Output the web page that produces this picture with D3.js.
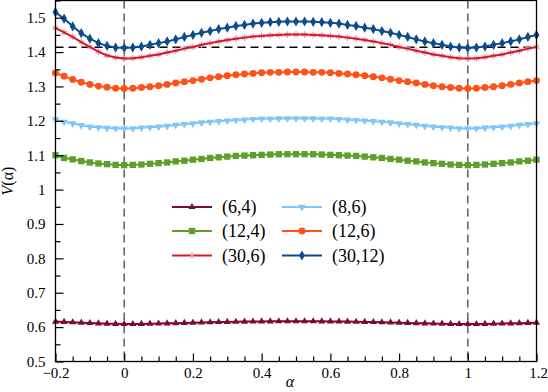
<!DOCTYPE html>
<html>
<head>
<meta charset="utf-8">
<script src="https://cdn.jsdelivr.net/npm/d3@7"></script>
<style>
  body { margin: 0; background: #fff; overflow: hidden; }
  svg { display: block; }
  svg text { font-family: "Liberation Serif", "DejaVu Serif", "Times New Roman", serif; }
</style>
</head>
<body>
<svg id="chart"></svg>
<script>
/* data: V(alpha) for six (n,m) pairs */
var alpha = [-0.2, -0.175, -0.15, -0.125, -0.1, -0.075, -0.05, -0.025, 0,
  0.025, 0.05, 0.075, 0.1, 0.125, 0.15, 0.175, 0.2, 0.225, 0.25,
  0.275, 0.3, 0.325, 0.35, 0.375, 0.4, 0.425, 0.45, 0.475, 0.5,
  0.525, 0.55, 0.575, 0.6, 0.625, 0.65, 0.675, 0.7, 0.725, 0.75,
  0.775, 0.8, 0.825, 0.85, 0.875, 0.9, 0.925, 0.95, 0.975, 1,
  1.025, 1.05, 1.075, 1.1, 1.125, 1.15, 1.175, 1.2];

var v6_4 = [0.616, 0.615, 0.614, 0.613, 0.612, 0.611, 0.610, 0.6095, 0.609,
  0.6091, 0.6094, 0.6099, 0.6104, 0.611, 0.6116, 0.6123, 0.6129, 0.6136, 0.6141,
  0.6147, 0.6152, 0.6156, 0.616, 0.6163, 0.6166, 0.6168, 0.6169, 0.617, 0.617,
  0.617, 0.6169, 0.6168, 0.6166, 0.6163, 0.616, 0.6156, 0.6152, 0.6147, 0.6141,
  0.6136, 0.6129, 0.6123, 0.6116, 0.611, 0.6104, 0.6099, 0.6094, 0.6091, 0.609,
  0.6091, 0.6094, 0.6099, 0.6104, 0.611, 0.6116, 0.6123, 0.6129];

var v8_6 = [1.204, 1.197, 1.192, 1.187, 1.183, 1.181, 1.179, 1.178, 1.178,
  1.178, 1.180, 1.181, 1.183, 1.185, 1.188, 1.190, 1.192, 1.195, 1.197,
  1.199, 1.200, 1.202, 1.203, 1.205, 1.206, 1.206, 1.207, 1.207, 1.207,
  1.207, 1.207, 1.206, 1.206, 1.205, 1.203, 1.202, 1.200, 1.199, 1.197,
  1.195, 1.192, 1.190, 1.188, 1.185, 1.183, 1.181, 1.180, 1.178, 1.178,
  1.178, 1.180, 1.181, 1.183, 1.185, 1.188, 1.190, 1.192];

var v12_4 = [1.100, 1.092, 1.088, 1.083, 1.079, 1.076, 1.074, 1.072, 1.071,
  1.072, 1.073, 1.075, 1.077, 1.079, 1.082, 1.084, 1.087, 1.089, 1.092,
  1.094, 1.096, 1.098, 1.099, 1.100, 1.101, 1.102, 1.103, 1.103, 1.103,
  1.103, 1.103, 1.102, 1.101, 1.100, 1.099, 1.098, 1.096, 1.094, 1.092,
  1.089, 1.087, 1.084, 1.082, 1.079, 1.077, 1.075, 1.073, 1.072, 1.071,
  1.072, 1.073, 1.075, 1.077, 1.079, 1.082, 1.084, 1.087];

var v12_6 = [1.339, 1.330, 1.320, 1.312, 1.306, 1.301, 1.298, 1.295, 1.294,
  1.295, 1.297, 1.299, 1.302, 1.306, 1.310, 1.314, 1.317, 1.321, 1.325,
  1.328, 1.331, 1.334, 1.336, 1.338, 1.340, 1.341, 1.341, 1.342, 1.342,
  1.342, 1.341, 1.341, 1.340, 1.338, 1.336, 1.334, 1.331, 1.328, 1.325,
  1.321, 1.317, 1.314, 1.310, 1.306, 1.302, 1.299, 1.297, 1.295, 1.294,
  1.295, 1.297, 1.299, 1.302, 1.306, 1.310, 1.314, 1.317];

var v30_6 = [1.470, 1.457, 1.444, 1.429, 1.415, 1.401, 1.390, 1.384, 1.381,
  1.382, 1.385, 1.389, 1.393, 1.399, 1.404, 1.410, 1.415, 1.421, 1.426,
  1.431, 1.435, 1.439, 1.442, 1.445, 1.447, 1.449, 1.450, 1.451, 1.451,
  1.451, 1.450, 1.449, 1.447, 1.445, 1.442, 1.439, 1.435, 1.431, 1.426,
  1.421, 1.415, 1.410, 1.404, 1.399, 1.393, 1.389, 1.385, 1.382, 1.381,
  1.382, 1.385, 1.389, 1.393, 1.399, 1.404, 1.410, 1.415];

var v30_12 = [1.516, 1.497, 1.475, 1.455, 1.439, 1.426, 1.418, 1.413, 1.412,
  1.413, 1.416, 1.421, 1.426, 1.431, 1.437, 1.444, 1.450, 1.456, 1.461,
  1.467, 1.471, 1.476, 1.479, 1.483, 1.485, 1.487, 1.488, 1.489, 1.489,
  1.489, 1.488, 1.487, 1.485, 1.483, 1.479, 1.476, 1.471, 1.467, 1.461,
  1.456, 1.450, 1.444, 1.437, 1.431, 1.426, 1.421, 1.416, 1.413, 1.412,
  1.413, 1.416, 1.421, 1.426, 1.431, 1.437, 1.444, 1.450];

var seriesNames = ["(6,4)", "(8,6)", "(12,4)", "(12,6)", "(30,6)", "(30,12)"];

/* reference lines */
var vLines = [0, 1];
var hLine = 1.414;

/* ticks */
var xTicks = [-0.2, 0, 0.2, 0.4, 0.6, 0.8, 1, 1.2];
var xMinor = [-0.15, -0.1, -0.05, 0.05, 0.1, 0.15, 0.25, 0.3, 0.35, 0.45, 0.5, 0.55,
  0.65, 0.7, 0.75, 0.85, 0.9, 0.95, 1.05, 1.1, 1.15];
var yTicks = [0.5, 0.6, 0.7, 0.8, 0.9, 1, 1.1, 1.2, 1.3, 1.4, 1.5];
var yMinor = [0.55, 0.65, 0.75, 0.85, 0.95, 1.05, 1.15, 1.25, 1.35, 1.45, 1.55];

/* settings */
var width = 548, height = 392,
    margin = { top: 0.5, right: 11.5, bottom: 30.5, left: 55.5 },
    serif = "'Liberation Serif', 'DejaVu Serif', 'Times New Roman', serif";
var innerWidth = width - margin.left - margin.right,
    innerHeight = height - margin.top - margin.bottom;

var series = [
  { values: v6_4,   color: "#7d0b2c", mark: "#7d0b2c", symbol: d3.symbolTriangle, size: 22, rot: 0,   stroke: false },
  { values: v8_6,   color: "#80c6f6", mark: "#80c6f6", symbol: d3.symbolTriangle, size: 26, rot: 180, stroke: false },
  { values: v12_4,  color: "#5c9f2a", mark: "#5c9f2a", symbol: d3.symbolSquare,   size: 40, rot: 0,   stroke: false },
  { values: v12_6,  color: "#fe5318", mark: "#fe5318", symbol: d3.symbolCircle,   size: 38, rot: 0,   stroke: false },
  { values: v30_6,  color: "#d21a2d", mark: "#f29aa8", symbol: d3.symbolAsterisk, size: 30, rot: 0,   stroke: true },
  { values: v30_12, color: "#0c4c8c", mark: "#0c4c8c", symbol: d3.symbolDiamond,  size: 30, rot: 0,   stroke: false }
];

var svg = d3.select("#chart")
    .attr("width", width)
    .attr("height", height);

var g = svg.append("g")
    .attr("transform", "translate(" + margin.left + "," + margin.top + ")");

/* scales */
var xScale = d3.scaleLinear().domain([-0.2, 1.2]).range([0, innerWidth]);
var yScale = d3.scaleLinear().domain([0.5, 1.55]).range([innerHeight, 0]);

/* dashed reference lines */
g.selectAll(".vline")
  .data(vLines)
  .enter().append("line")
    .attr("x1", function (d) { return xScale(d); })
    .attr("x2", function (d) { return xScale(d); })
    .attr("y1", 0)
    .attr("y2", innerHeight)
    .attr("stroke", "#666")
    .attr("stroke-width", 1.6)
    .attr("stroke-dasharray", "8,5");

g.append("line")
    .attr("x1", 0)
    .attr("x2", innerWidth)
    .attr("y1", yScale(hLine))
    .attr("y2", yScale(hLine))
    .attr("stroke", "#000")
    .attr("stroke-width", 1.4)
    .attr("stroke-dasharray", "8,5");

/* curves and markers (the (30,6) line is drawn over its light markers) */
var line = d3.line()
    .x(function (d, i) { return xScale(alpha[i]); })
    .y(function (d) { return yScale(d); });

series.forEach(function (s) {
  var path = function () {
    g.append("path")
        .datum(s.values)
        .attr("fill", "none")
        .attr("stroke", s.color)
        .attr("stroke-width", 2)
        .attr("d", line);
  };
  if (!s.stroke) path();

  g.selectAll(null)
    .data(s.values)
    .enter().append("path")
      .attr("d", d3.symbol().type(s.symbol).size(s.size))
      .attr("transform", function (d, i) {
        return "translate(" + xScale(alpha[i]) + "," + yScale(d) + ") rotate(" + s.rot + ")";
      })
      .attr("fill", s.stroke ? "none" : s.mark)
      .attr("stroke", s.stroke ? s.mark : "none")
      .attr("stroke-width", 1.3);

  if (s.stroke) path();
});

/* axes: ticks pointing inward, minor ticks without labels */
var fmtX = function (d) { return d < 0 ? "\u2212" + Math.abs(d) : String(d); };

g.append("g")
    .attr("class", "x-axis")
    .attr("transform", "translate(0," + innerHeight + ")")
    .call(d3.axisBottom(xScale).tickValues(xTicks).tickSize(-8).tickPadding(6).tickFormat(fmtX));
g.append("g")
    .attr("class", "minor")
    .attr("transform", "translate(0," + innerHeight + ")")
    .call(d3.axisBottom(xScale).tickValues(xMinor).tickSize(-5));

g.append("g")
    .call(d3.axisLeft(yScale).tickValues(yTicks).tickSize(-8).tickPadding(10).tickFormat(function (d) { return String(d); }));
g.append("g")
    .attr("class", "minor")
    .call(d3.axisLeft(yScale).tickValues(yMinor).tickSize(-5));

g.selectAll(".minor text").remove();
g.selectAll(".domain").remove();
g.selectAll(".tick line").attr("stroke", "#000").attr("stroke-width", 1.2);
g.selectAll("g").attr("font-family", null);
g.selectAll(".tick text")
    .attr("fill", "#000")
    .style("font-size", "15px")
    .style("font-family", serif);

// keep the last x label inside the window
g.selectAll(".x-axis .tick:last-of-type text")
    .attr("text-anchor", "end")
    .attr("x", 11);

/* frame */
g.append("rect")
    .attr("width", innerWidth)
    .attr("height", innerHeight)
    .attr("fill", "none")
    .attr("stroke", "#000")
    .attr("stroke-width", 1.3);

/* axis legends */
svg.append("text")
    .attr("x", margin.left + xScale(0.5) - 6)
    .attr("y", 387)
    .style("font-size", "16px")
    .style("font-family", serif)
    .style("font-style", "italic")
    .attr("text-anchor", "middle")
    .text("\u03b1");

var yLab = svg.append("text")
    .attr("transform", "translate(13," + (margin.top + innerHeight / 2) + ") rotate(-90)")
    .attr("text-anchor", "middle")
    .style("font-family", serif)
    .style("font-size", "16px");
yLab.append("tspan").style("font-style", "italic").text("V");
yLab.append("tspan").text("(\u03b1)");

/* legend */
var legendPos = [[172, 207], [282, 207], [172, 231], [282, 231], [172, 255.5], [282, 255.5]];
var legendOrder = [0, 1, 2, 3, 4, 5];

var leg = svg.selectAll(".legend")
  .data(legendOrder)
  .enter().append("g")
    .attr("class", "legend")
    .attr("transform", function (d, i) { return "translate(" + legendPos[i][0] + "," + legendPos[i][1] + ")"; });

leg.append("line")
    .attr("x1", 0).attr("x2", 40)
    .attr("stroke", function (d) { return series[d].color; })
    .attr("stroke-width", 2);

leg.append("path")
    .attr("d", function (d) { return d3.symbol().type(series[d].symbol).size(series[d].size)(); })
    .attr("transform", function (d) { return "translate(20,0) rotate(" + series[d].rot + ")"; })
    .attr("fill", function (d) { return series[d].stroke ? "none" : series[d].mark; })
    .attr("stroke", function (d) { return series[d].stroke ? series[d].mark : "none"; })
    .attr("stroke-width", 1.3);

leg.append("text")
    .attr("x", 50)
    .attr("dy", "0.35em")
    .style("font-family", serif)
    .style("font-size", "18px")
    .text(function (d) { return seriesNames[d]; });
</script>
</body>
</html>
